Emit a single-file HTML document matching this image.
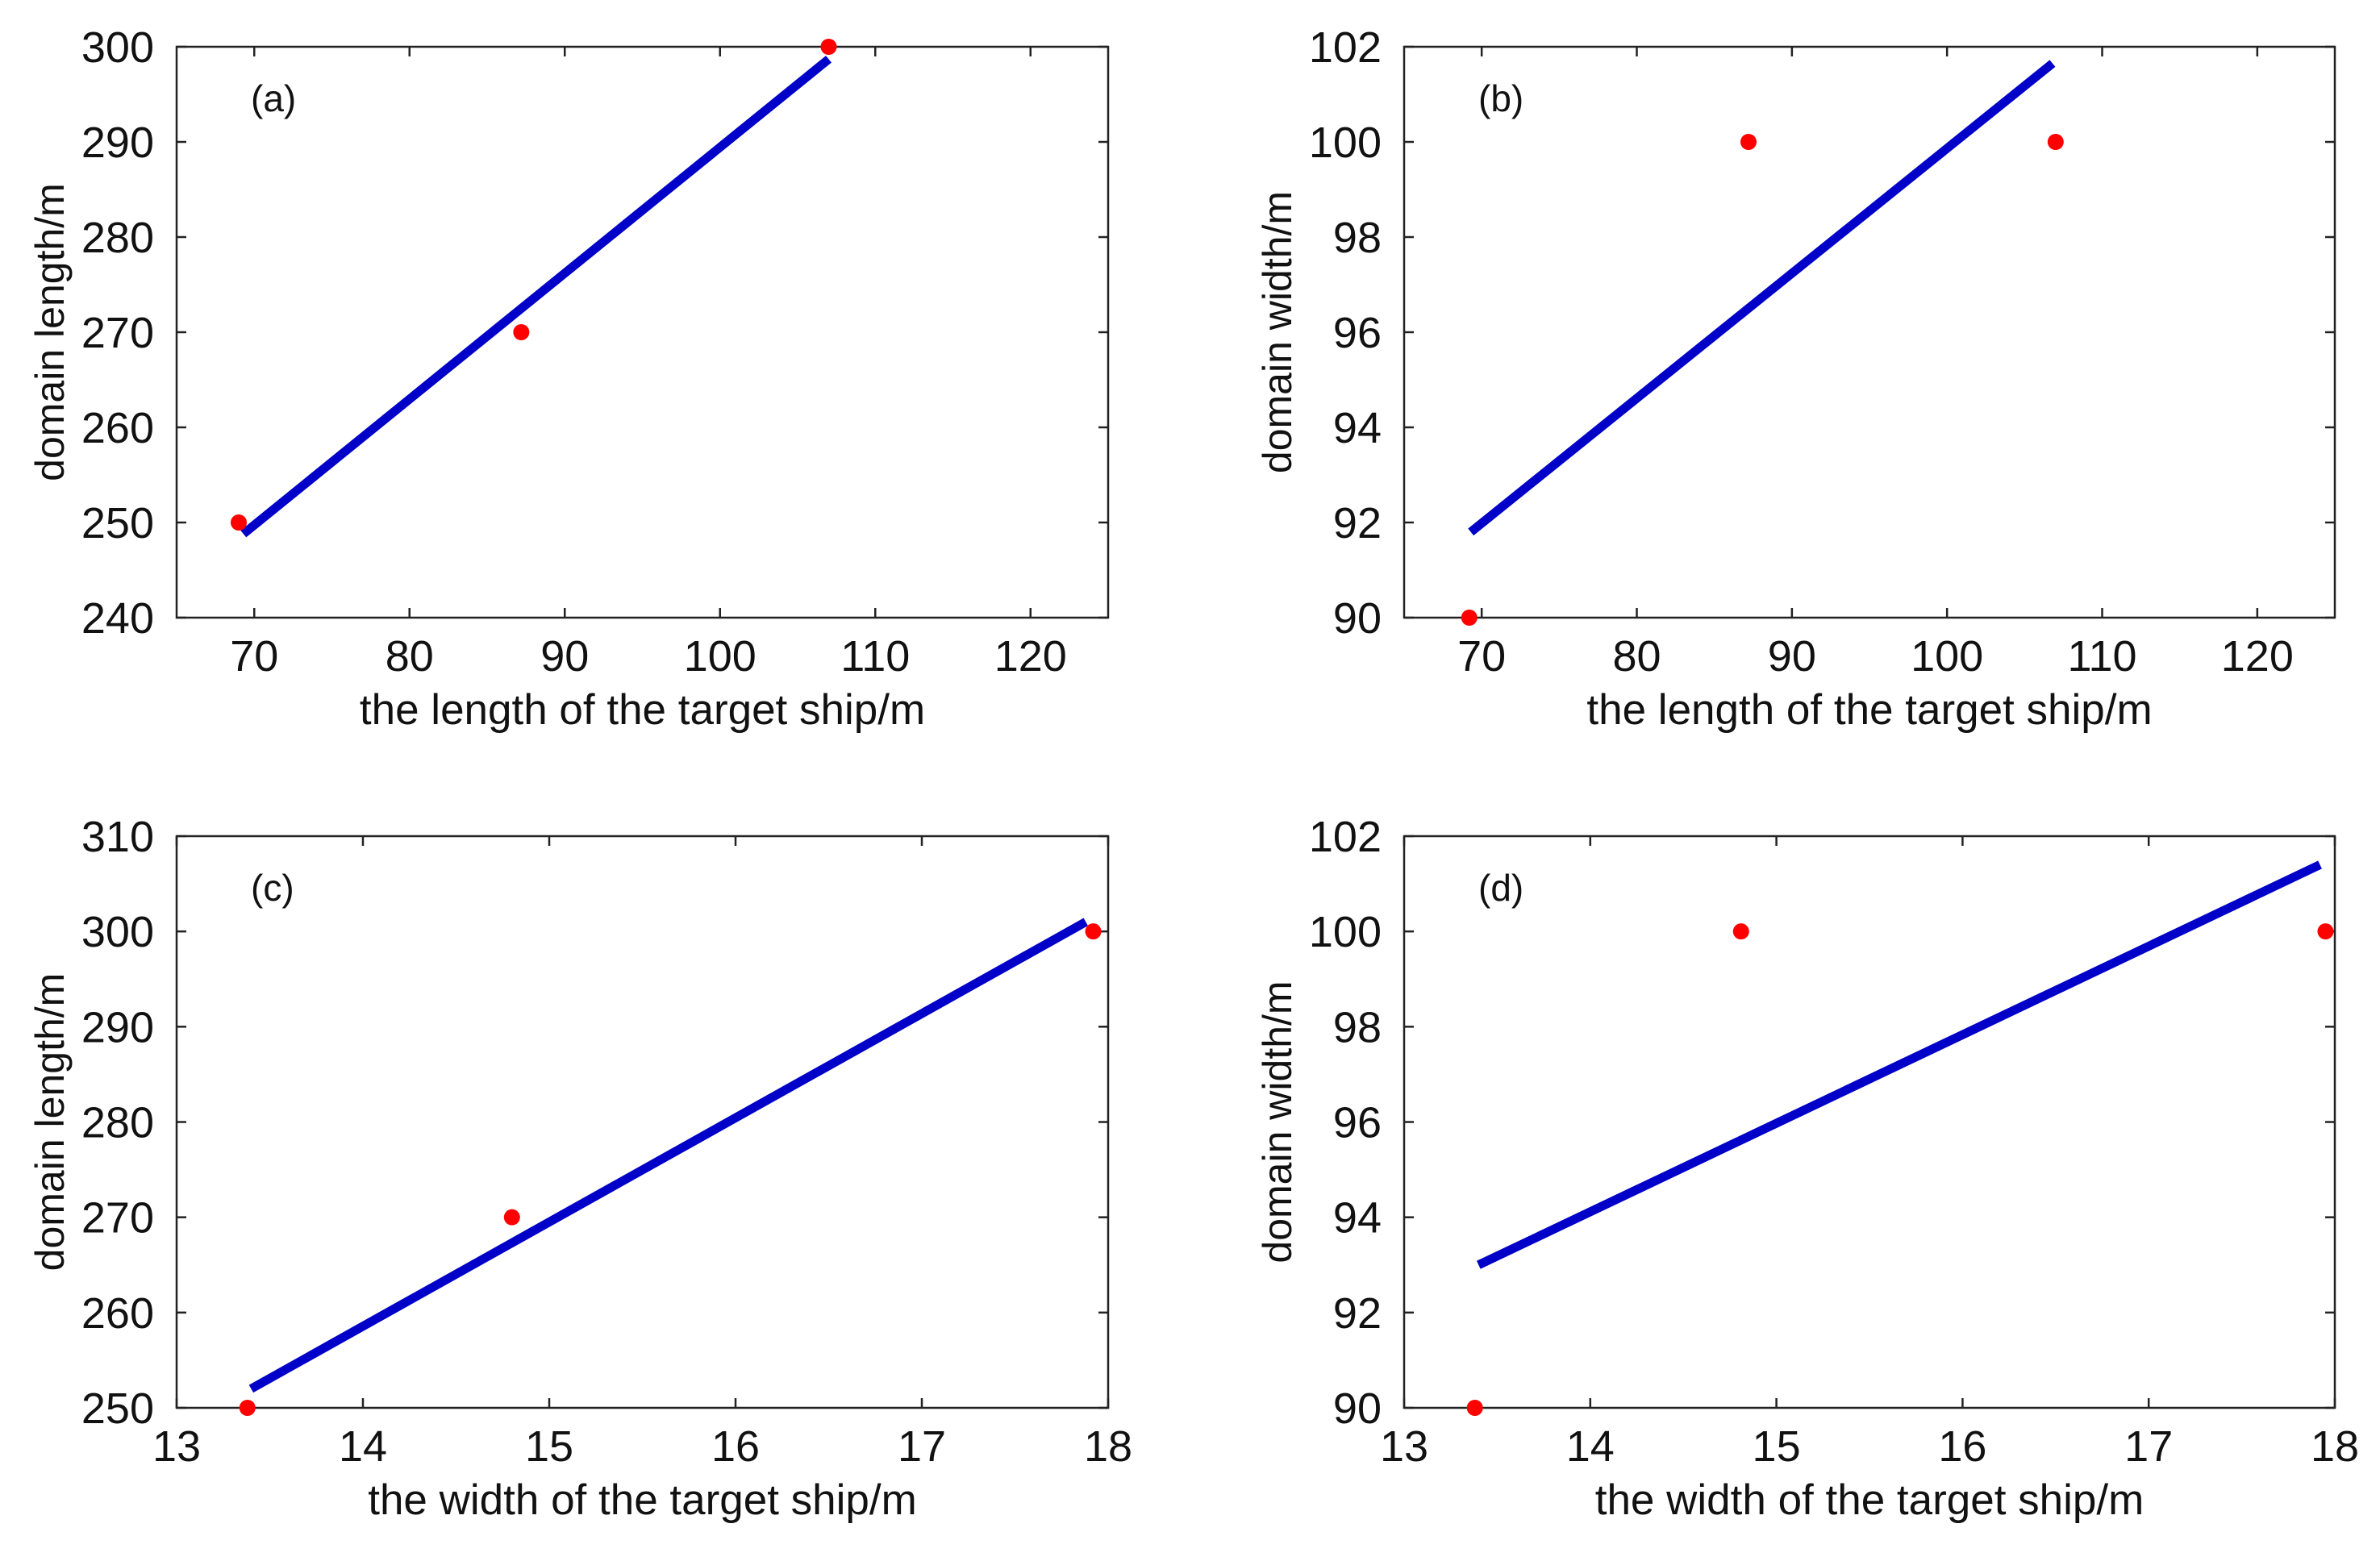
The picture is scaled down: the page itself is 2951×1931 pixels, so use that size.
<!DOCTYPE html>
<html><head><meta charset="utf-8"><style>
html,body{margin:0;padding:0;background:#fff;}
svg text{font-family:"Liberation Sans",Arial,sans-serif;fill:#111;}
</style></head><body>
<svg id="fig" width="2951" height="1926" viewBox="0 0 2951 1926" xmlns="http://www.w3.org/2000/svg"></svg>
<script>
// Panel data
const panelLabels = ["(a)","(b)","(c)","(d)"];
const xTitles = ["the length of the target ship/m","the length of the target ship/m","the width of the target ship/m","the width of the target ship/m"];
const yTitles = ["domain length/m","domain width/m","domain length/m","domain width/m"];
const xDomains = [[65,125],[65,125],[13,18],[13,18]];
const yDomains = [[240,300],[90,102],[250,310],[90,102]];
const xTicksA = [70,80,90,100,110,120];
const xTicksC = [13,14,15,16,17,18];
const yTicksA = [240,250,260,270,280,290,300];
const yTicksB = [90,92,94,96,98,100,102];
const yTicksC = [250,260,270,280,290,300,310];
const pointsXA = [69,87.2,107], pointsYA = [250,270,300];
const pointsXB = [69.2,87.2,107], pointsYB = [90,100,100];
const pointsXC = [13.38,14.8,17.92], pointsYC = [250,270,300];
const pointsXD = [13.38,14.81,17.95], pointsYD = [90,100,100];
const fitXA = [69.3,107], fitYA = [248.8,298.7];
const fitXB = [69.3,106.8], fitYB = [91.8,101.65];
const fitXC = [13.4,17.88], fitYC = [252,301];
const fitXD = [13.4,17.92], fitYD = [93,101.4];

const NS="http://www.w3.org/2000/svg";
const svg=document.getElementById('fig');
function mk(tag,attrs,parent){const e=document.createElementNS(NS,tag);for(const k in attrs)e.setAttribute(k,attrs[k]);(parent||svg).appendChild(e);return e;}

const boxes=[[219,58,1374,766],[1741,58,2895,766],[219,1037,1374,1746],[1741,1037,2895,1746]];
const xTickSets=[xTicksA,xTicksA,xTicksC,xTicksC];
const yTickSets=[yTicksA,yTicksB,yTicksC,yTicksB];
const ptsX=[pointsXA,pointsXB,pointsXC,pointsXD], ptsY=[pointsYA,pointsYB,pointsYC,pointsYD];
const fX=[fitXA,fitXB,fitXC,fitXD], fY=[fitYA,fitYB,fitYC,fitYD];
const names=['a','b','c','d'];

for(let p=0;p<4;p++){
  const [L,T,R,B]=boxes[p];
  const g=mk('g',{});
  
  
  const sx=v=>L+(v-xDomains[p][0])/(xDomains[p][1]-xDomains[p][0])*(R-L);
  const sy=v=>B-(v-yDomains[p][0])/(yDomains[p][1]-yDomains[p][0])*(B-T);
  const frame=mk('rect',{x:L,y:T,width:R-L,height:B-T,fill:'#fff',stroke:'#222','stroke-width':2.5},g);
  
  
  xTickSets[p].forEach(v=>{
    const x=sx(v);
    mk('line',{x1:x,y1:B,x2:x,y2:B-12,stroke:'#222','stroke-width':2.5},g);
    mk('line',{x1:x,y1:T,x2:x,y2:T+12,stroke:'#222','stroke-width':2.5},g);
    const t=mk('text',{x:x,y:B+66,'text-anchor':'middle','font-size':54},g);
    t.textContent=v;
    
    
  });
  yTickSets[p].forEach(v=>{
    const y=sy(v);
    mk('line',{x1:L,y1:y,x2:L+12,y2:y,stroke:'#222','stroke-width':2.5},g);
    mk('line',{x1:R,y1:y,x2:R-12,y2:y,stroke:'#222','stroke-width':2.5},g);
    const t=mk('text',{x:L-28,y:y+19,'text-anchor':'end','font-size':54},g);
    t.textContent=v;
    
    
  });
  const fit=mk('line',{x1:sx(fX[p][0]),y1:sy(fY[p][0]),x2:sx(fX[p][1]),y2:sy(fY[p][1]),stroke:'#0000c8','stroke-width':11},g);
  
  
  for(let i=0;i<ptsX[p].length;i++){
    const c=mk('circle',{cx:sx(ptsX[p][i]),cy:sy(ptsY[p][i]),r:10,fill:'#f00'},g);
    
    
  }
  const lab=mk('text',{x:L+92,y:T+80,'font-size':46},g);
  lab.textContent=panelLabels[p];
  
  
  const xt=mk('text',{x:(L+R)/2,y:B+132,'text-anchor':'middle','font-size':53},g);
  xt.textContent=xTitles[p];
  
  
  const cy=(T+B)/2, cx=L-140;
  const yt=mk('text',{x:cx,y:cy,'text-anchor':'middle','font-size':50,transform:`rotate(-90 ${cx} ${cy})`},g);
  yt.textContent=yTitles[p];
  
  
}
</script>
</body></html>
